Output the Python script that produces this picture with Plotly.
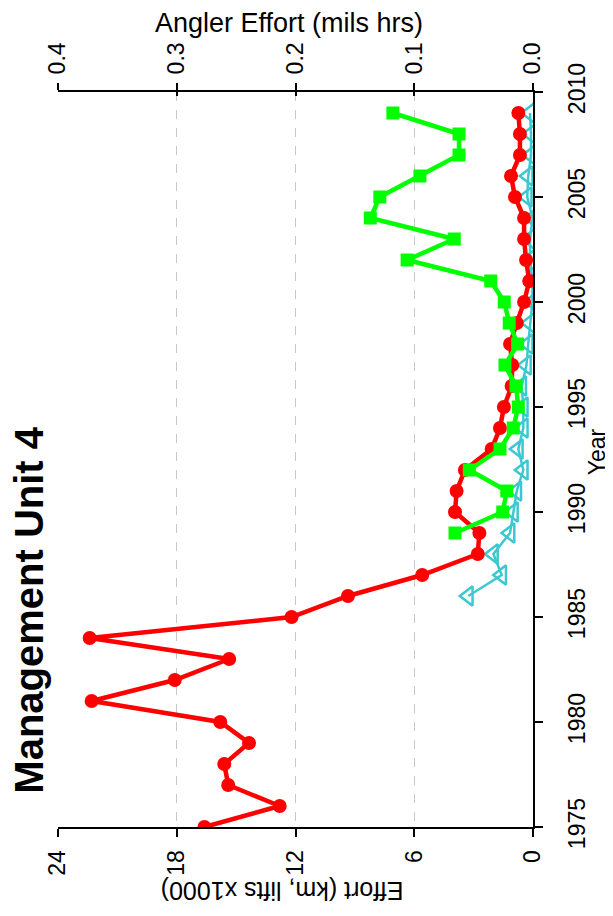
import plotly.graph_objects as go

# Effort (km, lifts x1000) - red circles
red_years = list(range(1975, 2010))
red_effort = [16.6, 12.8, 15.4, 15.6, 14.35, 15.8, 22.3, 18.1, 15.35, 22.4,
              12.2, 9.35, 5.6, 2.79, 2.71, 3.94, 3.86, 3.44, 2.09, 1.67,
              1.47, 1.08, 1.05, 1.16, 0.82, 0.45, 0.19, 0.35, 0.45, 0.45,
              0.91, 1.11, 0.66, 0.66, 0.74]

# Angler effort (mils hrs) - green squares
green_years = list(range(1989, 2010))
green_angler = [0.0657, 0.0255, 0.0221, 0.0536, 0.0278, 0.0166, 0.0124, 0.0143,
                0.0236, 0.0129, 0.020, 0.0242, 0.0356, 0.106, 0.0663, 0.137,
                0.129, 0.0952, 0.0623, 0.0623, 0.118]

# cyan open triangles (effort axis)
cyan_years = list(range(1986, 2010))
cyan_effort = [3.27, 1.58, 2.0, 1.16, 0.99, 0.82, 0.49, 0.74, 0.49, 0.49,
               0.57, 0.33, 0.24, 0.15, 0.03, 0.02, 0.15, 0.15, 0.02, 0.29,
               0.24, 0.1, 0.1, 0.15]

effort_ticks = [0, 6, 12, 18, 24]
angler_ticks = [0.0, 0.1, 0.2, 0.3, 0.4]
year_ticks = [1975, 1980, 1985, 1990, 1995, 2000, 2005, 2010]

FONT = "Liberation Sans"

fig = go.Figure()

fig.add_trace(go.Scatter(
    x=cyan_effort, y=cyan_years, mode='lines+markers', xaxis='x', yaxis='y',
    line=dict(color='#3CC8D0', width=2.5),
    marker=dict(symbol='triangle-left-open', size=17, color='#3CC8D0',
                line=dict(width=2.5, color='#3CC8D0')),
    name='cyan'
))
fig.add_trace(go.Scatter(
    x=red_effort, y=red_years, mode='lines+markers', xaxis='x', yaxis='y',
    line=dict(color='#FF0000', width=4.5),
    marker=dict(symbol='circle', size=14, color='#FF0000'),
    name='Effort'
))
fig.add_trace(go.Scatter(
    x=green_angler, y=green_years, mode='lines+markers', xaxis='x2', yaxis='y',
    line=dict(color='#00FF00', width=4.5),
    marker=dict(symbol='square', size=13, color='#00FF00'),
    name='Angler Effort'
))
# empty trace so the inside-tick top axis is drawn
fig.add_trace(go.Scatter(x=[None], y=[None], xaxis='x3', yaxis='y',
                         showlegend=False, hoverinfo='skip'))

axis_font = dict(family=FONT, size=23, color='black')

# page body has an 8px margin, so the figure is a bit smaller than the window
fig.update_layout(
    width=605, height=908, autosize=False,
    paper_bgcolor='white', plot_bgcolor='white',
    showlegend=False,
    margin=dict(l=50, r=80, t=84, b=89, pad=0),
    font=dict(family=FONT, color='black'),
    xaxis=dict(
        range=[24, 0], side='bottom', tickmode='array', tickvals=effort_ticks,
        tickangle=-90, tickfont=axis_font, ticks='outside', ticklen=8,
        tickwidth=2, tickcolor='black', showline=True, linecolor='black',
        linewidth=2, showgrid=True, gridcolor='#C8C8C8', griddash='dash',
        gridwidth=1, zeroline=False, ticklabelstandoff=4
    ),
    xaxis2=dict(
        range=[0.4, 0], overlaying='x', side='top', tickmode='array',
        tickvals=angler_ticks, tickformat='.1f', tickangle=-90,
        tickfont=axis_font, ticks='outside', ticklen=7, tickwidth=2,
        tickcolor='black', showline=True, linecolor='black', linewidth=2,
        showgrid=False, zeroline=False, ticklabelstandoff=4
    ),
    xaxis3=dict(
        range=[0.4, 0], overlaying='x', side='top', tickmode='array',
        tickvals=angler_ticks, showticklabels=False, ticks='inside',
        ticklen=4, tickwidth=2, tickcolor='black', showline=False,
        showgrid=False, zeroline=False
    ),
    yaxis=dict(
        range=[1975, 2010], side='right', tickmode='array', tickvals=year_ticks,
        tickangle=-90, tickfont=axis_font, ticks='outside', ticklen=8,
        tickwidth=2, tickcolor='black', showline=True, linecolor='black',
        linewidth=2, showgrid=False, zeroline=False, ticklabelstandoff=14
    ),
    annotations=[
        dict(text='<b>Management Unit 4</b>', textangle=-90, xref='paper',
             yref='paper', x=-0.060, y=0.295, xanchor='center',
             yanchor='middle', showarrow=False,
             font=dict(family=FONT, size=40, color='black')),
        dict(text='Effort (km, lifts x1000)', textangle=180, xref='paper',
             yref='paper', x=0.472, y=-0.088, xanchor='center',
             yanchor='middle', showarrow=False,
             font=dict(family=FONT, size=25, color='black')),
        dict(text='Angler Effort (mils hrs)', xref='paper', yref='paper',
             x=0.487, y=1.094, xanchor='center', yanchor='middle',
             showarrow=False, font=dict(family=FONT, size=27, color='black')),
        dict(text='Year', textangle=-90, xref='paper', yref='paper',
             x=1.135, y=0.51, xanchor='center', yanchor='middle',
             showarrow=False, font=dict(family=FONT, size=23, color='black')),
    ],
)

fig.write_html("out.html")
